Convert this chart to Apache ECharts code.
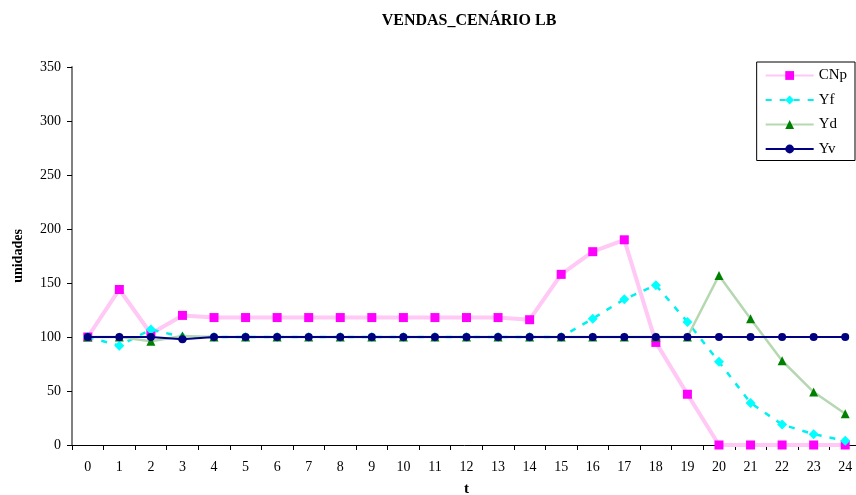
<!DOCTYPE html>
<html>
<head>
<meta charset="utf-8">
<script src="https://cdn.jsdelivr.net/npm/echarts@6/dist/echarts.min.js"></script>
<style>
  html, body { margin: 0; padding: 0; background: #fff; }
  #chart { width: 856px; height: 495px; }
</style>
</head>
<body>
<div id="chart"></div>
<script>
// Periods t = 0..24
const periods = ['0','1','2','3','4','5','6','7','8','9','10','11','12','13','14','15','16','17','18','19','20','21','22','23','24'];

// Sales per scenario series (unidades)
const cnp = [100, 144, 103, 120, 118, 118, 118, 118, 118, 118, 118, 118, 118, 118, 116, 158, 179, 190, 95, 47, 0, 0, 0, 0, 0];
const yf  = [100, 92, 107, 100, 100, 100, 100, 100, 100, 100, 100, 100, 100, 100, 100, 100, 117, 135, 148, 114, 77, 39, 19, 10, 4];
const yd  = [100, 100, 96, 101, 100, 100, 100, 100, 100, 100, 100, 100, 100, 100, 100, 100, 100, 100, 100, 100, 157, 117, 78, 49, 29];
const yv  = [100, 100, 100, 98, 100, 100, 100, 100, 100, 100, 100, 100, 100, 100, 100, 100, 100, 100, 100, 100, 100, 100, 100, 100, 100];

const yTicks = { min: 0, max: 350, interval: 50 };

const serif = '"Liberation Serif", "Times New Roman", serif';

const chart = echarts.init(document.getElementById('chart'), null, { renderer: 'canvas' });

chart.setOption({
  animation: false,
  backgroundColor: '#ffffff',
  textStyle: { fontFamily: serif, color: '#000' },
  title: {
    text: 'VENDAS_CENÁRIO LB',
    left: 464,
    textAlign: 'center',
    top: 8,
    textStyle: { fontFamily: serif, fontWeight: 'bold', fontSize: 16, color: '#000' }
  },
  grid: { left: 72, right: -5, top: 67, bottom: 50, outerBoundsMode: 'none', containLabel: false },
  legend: {
    orient: 'vertical',
    right: 1,
    top: 62,
    width: 98,
    padding: [6, 8, 4, 8],
    itemGap: 9.5,
    itemWidth: 48,
    itemHeight: 11,
    backgroundColor: '#fff',
    borderColor: '#000',
    borderWidth: 1,
    textStyle: { fontFamily: serif, fontSize: 15, color: '#000' },
    data: ['CNp', 'Yf', 'Yd', 'Yv']
  },
  xAxis: {
    type: 'category',
    data: periods,
    boundaryGap: true,
    name: 't',
    nameLocation: 'middle',
    nameGap: 37,
    nameTextStyle: { fontFamily: serif, fontWeight: 'bold', fontSize: 15, color: '#000' },
    axisLine: { lineStyle: { color: '#000', width: 1 } },
    axisTick: { show: true, alignWithLabel: false, length: 5, lineStyle: { color: '#000' } },
    axisLabel: { fontFamily: serif, fontSize: 14, color: '#000', margin: 15 },
    splitLine: { show: false }
  },
  yAxis: {
    type: 'value',
    min: yTicks.min,
    max: yTicks.max,
    interval: yTicks.interval,
    name: 'unidades',
    nameLocation: 'middle',
    nameGap: 47,
    nameRotate: 90,
    nameTextStyle: { fontFamily: serif, fontWeight: 'bold', fontSize: 14, color: '#000' },
    axisLine: { show: true, lineStyle: { color: '#808080', width: 2 } },
    axisTick: { show: true, length: 5, lineStyle: { color: '#000' } },
    axisLabel: { fontFamily: serif, fontSize: 14, color: '#000', margin: 11 },
    splitLine: { show: false }
  },
  series: [
    {
      name: 'CNp',
      type: 'line',
      data: cnp,
      symbol: 'rect',
      symbolSize: 9,
      itemStyle: { color: '#ff00ff' },
      lineStyle: { color: '#ffc8f5', width: 4 },
      z: 2
    },
    {
      name: 'Yf',
      type: 'line',
      data: yf,
      symbol: 'diamond',
      symbolSize: 10,
      itemStyle: { color: '#00ffff' },
      lineStyle: { color: '#00f0f0', width: 2.5, type: [6, 8] },
      z: 3
    },
    {
      name: 'Yd',
      type: 'line',
      data: yd,
      symbol: 'triangle',
      symbolSize: 9,
      itemStyle: { color: '#008000' },
      lineStyle: { color: '#b5d8b0', width: 2.5 },
      z: 4
    },
    {
      name: 'Yv',
      type: 'line',
      data: yv,
      symbol: 'circle',
      symbolSize: 8,
      itemStyle: { color: '#000080' },
      lineStyle: { color: '#000080', width: 2 },
      z: 5
    }
  ]
});
</script>
</body>
</html>
